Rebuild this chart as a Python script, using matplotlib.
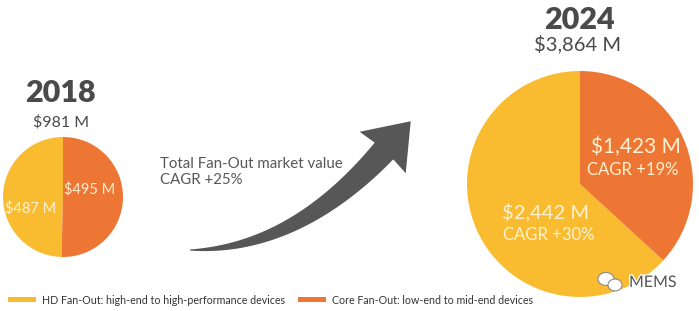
import numpy as np
import matplotlib.pyplot as plt
from matplotlib.patches import Polygon, Rectangle, Ellipse
import matplotlib.patheffects as pe

# data
years = ["2018", "2024"]
totals = ["$981 M", "$3,864 M"]
segments = ["HD Fan-Out: high-end to high-performance devices",
            "Core Fan-Out: low-end to mid-end devices"]
values_2018 = [487, 495]
values_2024 = [2442, 1423]
cagr_2024 = ["CAGR +30%", "CAGR +19%"]
total_cagr = "Total Fan-Out market value\nCAGR +25%"

yellow = "#F9BC30"
orange = "#EE7634"
dark = "#4a4a4a"
light = "#FFF1D2"
grey = "#575757"

plt.rcParams["font.family"] = ["Lato", "DejaVu Sans"]

fig = plt.figure(figsize=(6.99, 3.11), dpi=100)
ax = fig.add_axes([0, 0, 1, 1])


def Y(y):
    # pixel row from top -> data y
    return 311 - y


# small pie (2018)
ax.pie(values_2018, colors=[yellow, orange], startangle=90,
       center=(63, Y(197)), radius=60, wedgeprops=dict(linewidth=0))
ax.text(31, Y(208), f"${values_2018[0]} M", ha="center", va="center",
        fontsize=10.5, color=light)
ax.text(90, Y(189), f"${values_2018[1]} M", ha="center", va="center",
        fontsize=10.5, color=light)
ax.text(60, Y(93), years[0], ha="center", va="center", fontsize=22,
        fontweight="heavy", color=dark)
ax.text(61, Y(122), totals[0], ha="center", va="center", fontsize=11.5,
        color=dark)

# big pie (2024)
ax.pie(values_2024, colors=[yellow, orange], startangle=90,
       center=(580, Y(184)), radius=113, wedgeprops=dict(linewidth=0))
ax.text(546, Y(212), f"${values_2024[0]:,} M", ha="center", va="center",
        fontsize=14.5, color=light)
ax.text(549, Y(235), cagr_2024[0], ha="center", va="center",
        fontsize=12, color=light)
ax.text(636, Y(147), f"${values_2024[1]:,} M", ha="center", va="center",
        fontsize=15, color=light)
ax.text(633, Y(170), cagr_2024[1], ha="center", va="center",
        fontsize=12, color=light)
ax.text(579, Y(20), years[1], ha="center", va="center", fontsize=22,
        fontweight="heavy", color=dark)
ax.text(578, Y(44), totals[1], ha="center", va="center", fontsize=14.5,
        color=dark)

# growth arrow: tapered shaft along a quadratic curve, then a triangular head
p0, p1, p2 = np.array([190, 250.]), np.array([295, 250.]), np.array([384, 151.])
t = np.linspace(0, 1, 80)[:, None]
curve = (1 - t) ** 2 * p0 + 2 * (1 - t) * t * p1 + t ** 2 * p2
deriv = 2 * (1 - t) * (p1 - p0) + 2 * t * (p2 - p1)
tang = deriv / np.linalg.norm(deriv, axis=1)[:, None]
norm = np.column_stack([-tang[:, 1], tang[:, 0]])
half = (0.5 + 12.0 * t[:, 0] ** 0.9)[:, None]
upper = curve + norm * half
lower = curve - norm * half
d = tang[-1]
n = norm[-1]
base = p2 - d * 2
head = [base + n * 31, p2 + d * 40, base - n * 31]
pts = np.vstack([upper, head, lower[::-1]])
pts[:, 1] = 311 - pts[:, 1]
ax.add_patch(Polygon(pts, closed=True, facecolor=grey, edgecolor="none"))

ax.text(160, Y(172), total_cagr, ha="left", va="center", fontsize=10.8,
        color=grey, linespacing=1.25)

# watermark
for cx, cy, w, h in [(606, 279, 16, 13), (615, 285, 14, 12)]:
    ax.add_patch(Ellipse((cx, Y(cy)), w, h, facecolor="white",
                         edgecolor="#8a8a8a", lw=0.8))
ax.text(629, Y(283), "MEMS", ha="left", va="center", fontsize=11.5,
        color="#555555",
        path_effects=[pe.withStroke(linewidth=2, foreground="white")])

# legend
legend_x = [8, 298]
for x0, color, label in zip(legend_x, [yellow, orange], segments):
    ax.add_patch(Rectangle((x0, Y(302)), 28, 5.5, facecolor=color,
                           edgecolor="none"))
    ax.text(x0 + 34, Y(300), label, ha="left", va="center", fontsize=7.7,
            color="#333333")

ax.set_xlim(0, 699)
ax.set_ylim(0, 311)
ax.set_aspect("equal")
ax.axis("off")

fig.savefig("out.png", dpi=100, facecolor="white")
